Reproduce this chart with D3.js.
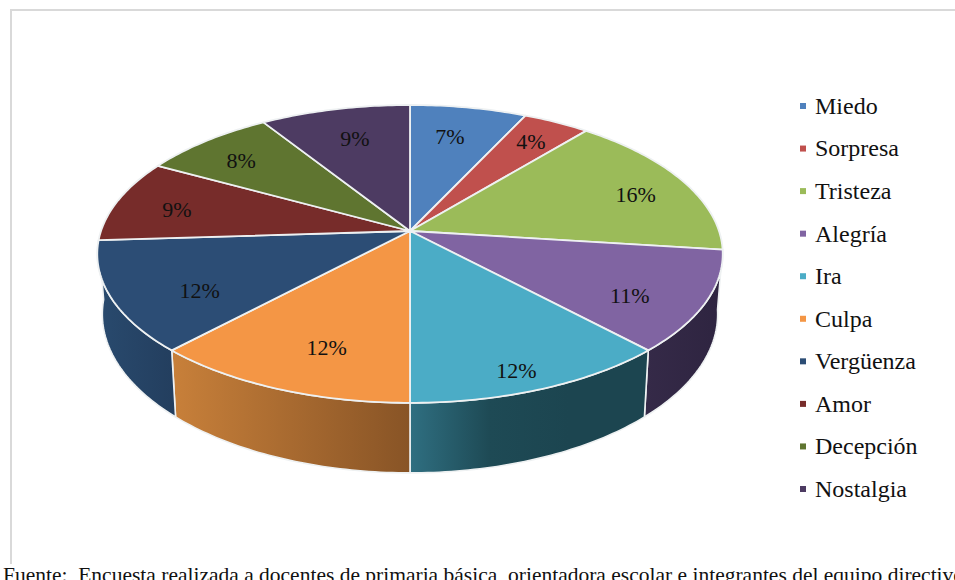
<!DOCTYPE html>
<html>
<head>
<meta charset="utf-8">
<script src="https://cdnjs.cloudflare.com/ajax/libs/d3/7.8.5/d3.min.js"></script>
<style>
  body { margin: 0; background: #fff; overflow: hidden; }
  text { font-family: "Liberation Serif", serif; fill: #111; }
</style>
</head>
<body>
<div id="chart"></div>
<script>
const categories = ['Miedo', 'Sorpresa', 'Tristeza', 'Alegría', 'Ira', 'Culpa', 'Vergüenza', 'Amor', 'Decepción', 'Nostalgia'];
const values = [7, 4, 16, 11, 12, 12, 12, 9, 8, 9];
const sliceColors = ['#4f81bd', '#c0504d', '#9bbb59', '#8064a2', '#4bacc6', '#f49645', '#2c4d75', '#772c2a', '#5f7530', '#4d3b62'];
const source = 'Fuente:  Encuesta realizada a docentes de primaria básica, orientadora escolar e integrantes del equipo directivo';

// side wall gradients, only the front slices show a wall
const wallColors = {
  'Alegría': ['#352a48', '#2e2440'],
  'Ira': ['#2f6f81', '#1e4a55', '#1c4550', '#1c4550'],
  'Culpa': ['#c8803a', '#885426'],
  'Vergüenza': ['#294a6e', '#233e5e'],
};

// label offsets from the default spot in each slice
const labelNudge = [[-4, -2], [12, -8], [27, 1], [11, 15], [15, 31], [8, 8], [1, 13], [-21, 1], [-18, -4], [1, -1]];

const width = 955;
const height = 580;

// the pie is seen in perspective, so the centre sits above the middle of the ellipse
const top3d = { cx: 410, cy: 231, a: 145.4, b: 309, k: -0.154 };
const bottom3d = { cx: 410, cy: 289.7, a: 155, b: 304, k: -0.154 };

function project(p, angle, r = 1) {
  const u = r * Math.sin(angle);
  const v = -r * Math.cos(angle);
  const w = 1 + p.k * v;
  return [p.cx + (p.b * u) / w, p.cy + (p.a * v) / w];
}

function arcPoints(p, d) {
  const n = Math.ceil((d.endAngle - d.startAngle) * 60);
  return d3.range(n + 1).map((i) => project(p, d.startAngle + ((d.endAngle - d.startAngle) * i) / n));
}

const svg = d3.select('#chart').append('svg').attr('width', width).attr('height', height);

// chart frame, runs off the right side of the picture
svg.append('rect')
  .attr('x', 11).attr('y', 10)
  .attr('width', 1000).attr('height', 600)
  .attr('fill', '#fff')
  .attr('stroke', '#d9d9d9')
  .attr('stroke-width', 2);

const color = d3.scaleOrdinal().domain(categories).range(sliceColors);
const pie = d3.pie().sort(null).value((d) => d.value);
const slices = pie(categories.map((name, i) => ({ name, value: values[i] })));
const line = d3.line();

const defs = svg.append('defs');
const walls = slices.filter((d) => wallColors[d.data.name]);

walls.forEach((d, i) => {
  const xs = arcPoints(bottom3d, d).concat(arcPoints(top3d, d)).map((p) => p[0]);
  const stops = wallColors[d.data.name];
  const grad = defs.append('linearGradient')
    .attr('id', `wall${i}`)
    .attr('gradientUnits', 'userSpaceOnUse')
    .attr('x1', d3.min(xs)).attr('x2', d3.max(xs))
    .attr('y1', 0).attr('y2', 0);
  stops.forEach((c, j) => {
    grad.append('stop').attr('offset', j / (stops.length - 1)).attr('stop-color', c);
  });
});

svg.append('g')
  .selectAll('path')
  .data(walls)
  .join('path')
  .attr('d', (d) => line(arcPoints(top3d, d).concat(arcPoints(bottom3d, d).reverse())) + 'Z')
  .attr('fill', (d, i) => `url(#wall${i})`)
  .attr('stroke', '#eef1f2')
  .attr('stroke-width', 1.6)
  .attr('stroke-linejoin', 'round');

svg.append('g')
  .selectAll('path')
  .data(slices)
  .join('path')
  .attr('d', (d) => line([[top3d.cx, top3d.cy]].concat(arcPoints(top3d, d))) + 'Z')
  .attr('fill', (d) => color(d.data.name))
  .attr('stroke', '#eef1f2')
  .attr('stroke-width', 1.8)
  .attr('stroke-linejoin', 'round');

svg.append('g')
  .selectAll('text')
  .data(slices)
  .join('text')
  .attr('x', (d, i) => project(top3d, (d.startAngle + d.endAngle) / 2, 0.72)[0] + labelNudge[i][0])
  .attr('y', (d, i) => project(top3d, (d.startAngle + d.endAngle) / 2, 0.72)[1] + labelNudge[i][1])
  .attr('dy', '0.33em')
  .attr('text-anchor', 'middle')
  .attr('font-size', 22)
  .text((d) => `${d.data.value}%`);

// legend
const legendY = d3.scalePoint().domain(categories).range([106, 489]);
const legend = svg.append('g')
  .selectAll('g')
  .data(categories)
  .join('g')
  .attr('transform', (d) => `translate(800, ${legendY(d)})`);

legend.append('rect')
  .attr('y', -3)
  .attr('width', 6)
  .attr('height', 6)
  .attr('fill', (d) => color(d));

legend.append('text')
  .attr('x', 15)
  .attr('dy', '0.33em')
  .attr('font-size', 24)
  .text((d) => d);

// footnote, cut by the bottom of the picture
svg.append('rect')
  .attr('x', 0).attr('y', 564)
  .attr('width', width).attr('height', 16)
  .attr('fill', '#fff');

svg.append('text')
  .attr('x', 3)
  .attr('y', 582)
  .attr('font-size', 21.5)
  .style('white-space', 'pre')
  .text(source);
</script>
</body>
</html>
